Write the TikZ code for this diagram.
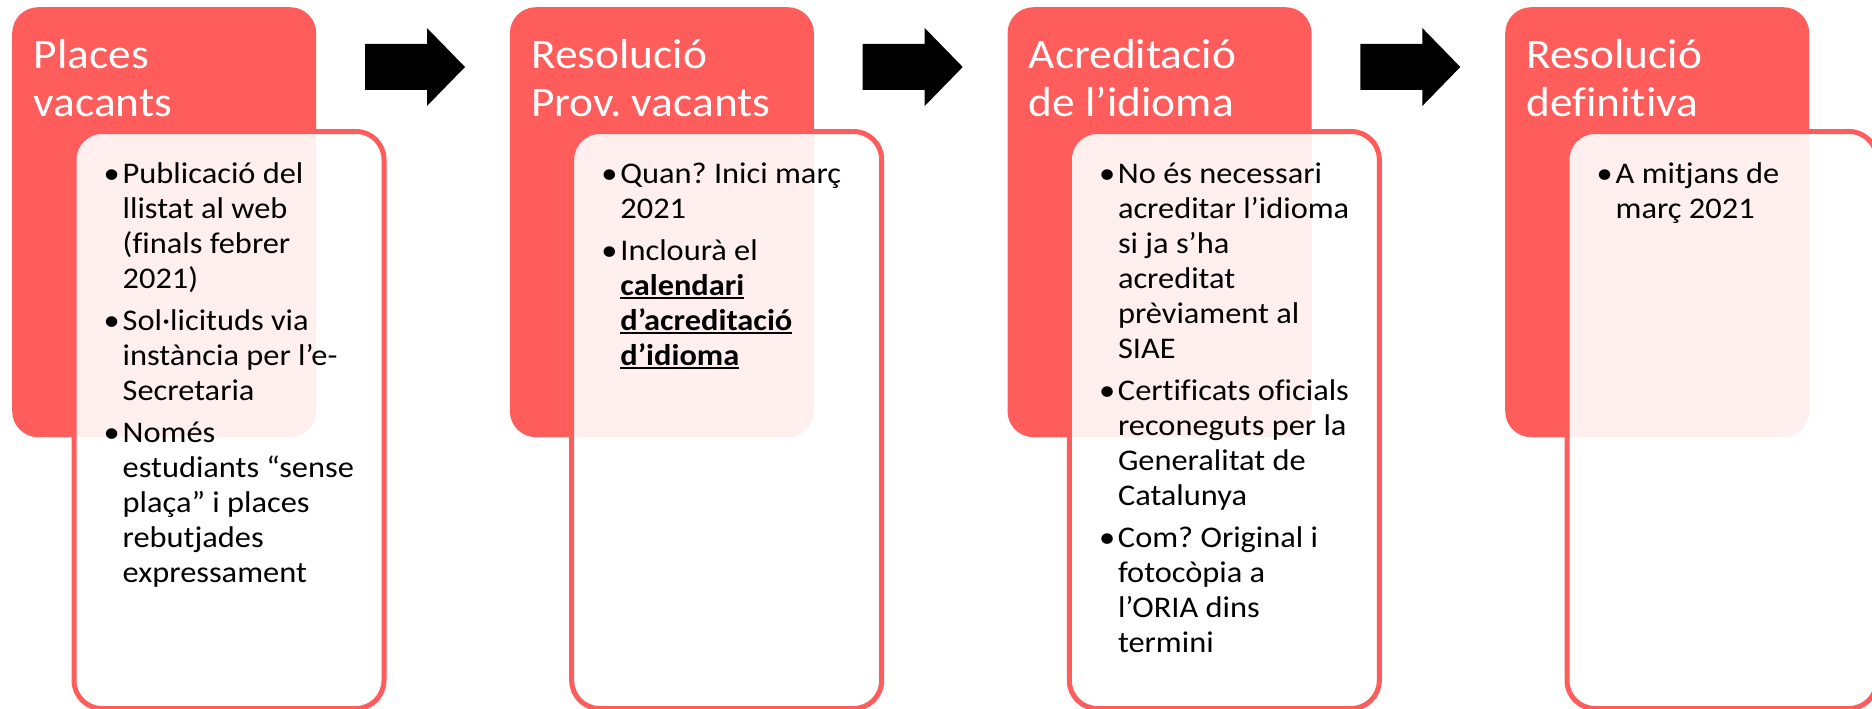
\documentclass[tikz,border=0pt]{standalone}
\usepackage{fontspec}
\setmainfont{Carlito}[FakeStretch=1.08,Ligatures={TeX,NoCommon}]
\definecolor{coral}{HTML}{FF5C5C}
\newcommand{\undr}[1]{\setbox0\hbox{#1}\rlap{\rule[-4pt]{\wd0}{2.5pt}}\box0}
\frenchspacing

\begin{document}
\begin{tikzpicture}[x=1pt,y=-1pt,
  stage/.style={fill=coral,rounded corners=26pt,minimum width=304pt,minimum height=430pt,inner sep=0pt,anchor=north west},
  card/.style={draw=coral,line width=5pt,fill=white,fill opacity=0.9,rounded corners=28pt,minimum width=310pt,minimum height=577pt,inner sep=0pt,anchor=north west},
  heading/.style={text=white,font=\fontsize{42}{48}\selectfont,inner sep=0pt,anchor=base west},
  points/.style={font=\fontsize{30}{35}\selectfont,inner sep=0pt,anchor=base west},
  bigarrow/.style={fill=black}]
\useasboundingbox (0,0) rectangle (1872,709);

% Places vacants
\node[stage] (stage1) at (12,7) {};
\node[card] (card1) at (71.5,129) {};
\node[heading] (head1) at (33.5,69) {\begin{tabular}[t]{@{}l@{}}Places\\vacants\end{tabular}};
\node[points] (list1) at (103.5,183) {\begin{tabular}[t]{@{}p{19pt}@{}l@{}}
\textbullet & Publicació del\\ & llistat al web\\ & (finals febrer\\ & 2021)\\[7pt]
\textbullet & Sol·licituds via\\ & instància per l’e-\\ & Secretaria\\[7pt]
\textbullet & Només\\ & estudiants “sense\\ & plaça” i places\\ & rebutjades\\ & expressament
\end{tabular}};
\fill[bigarrow] (365,44) -- (427,44) -- (427,28) -- (465,67) -- (427,106) -- (427,90) -- (365,90) -- cycle;

% Resolucio provisional
\node[stage] (stage2) at (509.7,7) {};
\node[card] (card2) at (569.2,129) {};
\node[heading] (head2) at (531,69) {\begin{tabular}[t]{@{}l@{}}Resolució\\Prov. vacants\end{tabular}};
\node[points] (list2) at (601.2,183) {\begin{tabular}[t]{@{}p{19pt}@{}l@{}}
\textbullet & Quan? Inici març\\ & 2021\\[7pt]
\textbullet & Inclourà el\\ & \undr{\textbf{calendari}}\\ & \undr{\textbf{d’acreditació}}\\ & \undr{\textbf{d’idioma}}
\end{tabular}};
\fill[bigarrow,xshift=497.7pt] (365,44) -- (427,44) -- (427,28) -- (465,67) -- (427,106) -- (427,90) -- (365,90) -- cycle;

% Acreditacio idioma
\node[stage] (stage3) at (1007.3,7) {};
\node[card] (card3) at (1066.8,129) {};
\node[heading] (head3) at (1028.6,69) {\begin{tabular}[t]{@{}l@{}}Acreditació\\de l’idioma\end{tabular}};
\node[points] (list3) at (1098.8,183) {\begin{tabular}[t]{@{}p{19pt}@{}l@{}}
\textbullet & No és necessari\\ & acreditar l’idioma\\ & si ja s’ha\\ & acreditat\\ & prèviament al\\ & SIAE\\[7pt]
\textbullet & Certificats oficials\\ & reconeguts per la\\ & Generalitat de\\ & Catalunya\\[7pt]
\textbullet & Com? Original i\\ & fotocòpia a\\ & l’ORIA dins\\ & termini
\end{tabular}};
\fill[bigarrow,xshift=995.3pt] (365,44) -- (427,44) -- (427,28) -- (465,67) -- (427,106) -- (427,90) -- (365,90) -- cycle;

% Resolucio definitiva
\node[stage] (stage4) at (1505,7) {};
\node[card] (card4) at (1564.5,129) {};
\node[heading] (head4) at (1526.3,69) {\begin{tabular}[t]{@{}l@{}}Resolució\\definitiva\end{tabular}};
\node[points] (list4) at (1596.5,183) {\begin{tabular}[t]{@{}p{19pt}@{}l@{}}
\textbullet & A mitjans de\\ & març 2021
\end{tabular}};
\end{tikzpicture}
\end{document}
